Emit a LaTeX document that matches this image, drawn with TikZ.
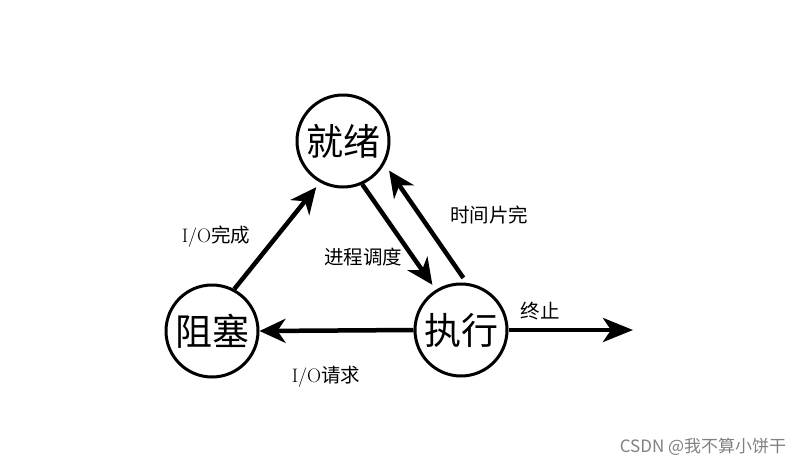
\documentclass[tikz,border=0pt]{standalone}
\usepackage{fontspec}
\newfontfamily\cjk{Noto Sans CJK SC}
\usetikzlibrary{arrows.meta}

\begin{document}
\begin{tikzpicture}[x=1pt,y=-1pt,
    state/.style={draw, circle, line width=3pt, minimum size=92pt, inner sep=0pt,
        font=\cjk\fontsize{37}{39}\selectfont},
    flow/.style={-{Stealth[length=26pt,width=24pt,inset=8pt]}, line width=4.5pt},
    lbl/.style={font=\cjk\fontsize{19.5}{21}\selectfont}]
    \useasboundingbox (0,0) rectangle (803,467);

    % The three states
    \node[state] (ready) at (343,141) {就绪};
    \node[state] (blocked) at (212,331) {阻塞};
    \node[state] (running) at (461,330) {执行};

    % Free end of the exit arrow
    \coordinate (exit) at (633,330);

    % Transitions between the states
    \draw[flow, shorten >=6pt] (blocked.62) -- (ready.241);
    \draw[flow, shorten >=6pt] (ready.-66) -- (running.122);
    \draw[flow, shorten <=6pt, shorten >=8pt] (running.83) -- (ready.-29);
    \draw[flow] (running.west) -- (blocked.east);
    \draw[flow, -{Stealth[length=30pt,width=24pt,inset=8pt]}] (running.east) -- (exit);

    % Labels of the transitions
    \node[lbl] (doneLbl) at (216,237) {{\rmfamily I/O}完成};
    \node[lbl] (schedLbl) at (363,257) {进程调度};
    \node[lbl] (sliceLbl) at (489,215) {时间片完};
    \node[lbl] (reqLbl) at (326,377) {{\rmfamily I/O}请求};
    \node[lbl] (exitLbl) at (540,311) {终止};

    % Watermark
    \node[font=\cjk\fontsize{17}{19}\selectfont, text=gray] (mark) at (703,447) {CSDN @我不算小饼干};
\end{tikzpicture}
\end{document}
